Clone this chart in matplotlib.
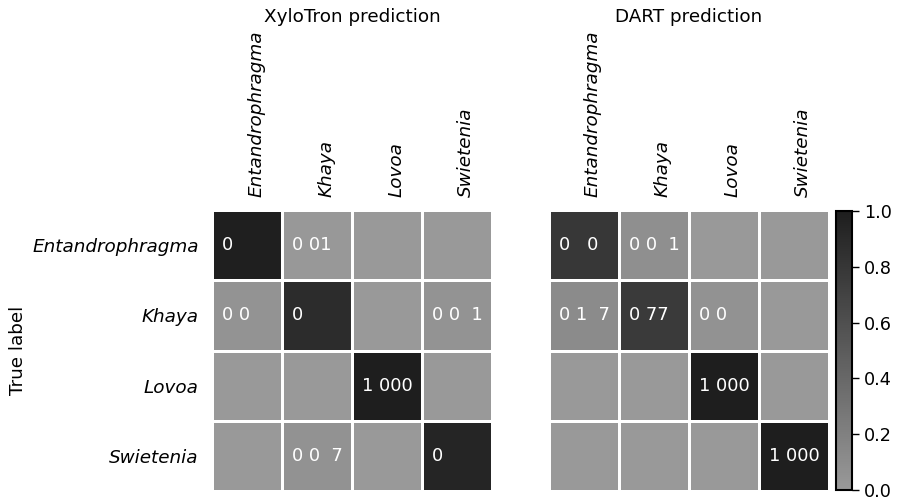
import matplotlib.pyplot as plt
import numpy as np
from matplotlib.colors import LinearSegmentedColormap

genera = ["Entandrophragma", "Khaya", "Lovoa", "Swietenia"]
panel_titles = ["XyloTron prediction", "DART prediction"]

# confusion matrices (rows = true label, columns = prediction)
xylotron = [[0.99, 0.01, 0.00, 0.00],
            [0.05, 0.88, 0.00, 0.05],
            [0.00, 0.00, 1.00, 0.00],
            [0.00, 0.06, 0.00, 0.94]]
dart = [[0.80, 0.08, 0.00, 0.00],
        [0.12, 0.77, 0.06, 0.00],
        [0.00, 0.00, 1.00, 0.00],
        [0.00, 0.00, 0.00, 1.00]]

# cell annotations as they appear in the chart (some glyphs not shown)
F = "\u2007"
xylotron_text = [["0 " + F * 3, "0 01" + F, "", ""],
                 ["0 0" + F * 2, "0 " + F * 3, "", "0 0" + F + "1"],
                 ["", "", "1 000", ""],
                 ["", "0 0" + F + "7", "", "0 " + F * 3]]
dart_text = [["0 " + F + "0" + F, "0 0" + F + "1", "", ""],
             ["0 1" + F + "7", "0 77" + F, "0 0" + F * 2, ""],
             ["", "", "1 000", ""],
             ["", "", "", "1 000"]]

cbar_ticks = [0.0, 0.2, 0.4, 0.6, 0.8, 1.0]

FS = 13.2
W, H = 900, 498
cmap = LinearSegmentedColormap.from_list("grey_cm", ["#999999", "#1e1e1e"])

fig = plt.figure(figsize=(W / 100, H / 100), dpi=100)


def px_axes(x0, y0, x1, y1):
    return fig.add_axes([x0 / W, 1 - y1 / H, (x1 - x0) / W, (y1 - y0) / H])


def draw_panel(ax, values, texts, show_rows):
    mesh = ax.pcolormesh(np.array(values), cmap=cmap, vmin=0, vmax=1,
                         edgecolors="white", linewidth=1.8)
    ax.set_xlim(0, len(genera))
    ax.set_ylim(len(genera), 0)
    pos = np.arange(len(genera)) + 0.5
    ax.xaxis.tick_top()
    ax.set_xticks(pos)
    ax.set_xticklabels(genera, rotation=90, ha="left", style="italic", fontsize=FS)
    ax.set_yticks(pos)
    if show_rows:
        ax.set_yticklabels(genera, style="italic", fontsize=FS)
    else:
        ax.set_yticklabels([])
    ax.tick_params(length=0, pad=9.5)
    for s in ax.spines.values():
        s.set_visible(False)
    for i, row in enumerate(texts):
        for j, t in enumerate(row):
            if t:
                ax.text(j + 0.5, i + 0.5, t, ha="center", va="center",
                        color="white", fontsize=FS * 0.97)
    return mesh


ax1 = px_axes(212, 210, 492, 491)
ax2 = px_axes(549, 210, 829, 491)
mesh = draw_panel(ax1, xylotron, xylotron_text, True)
draw_panel(ax2, dart, dart_text, False)

fig.text(352 / W, 1 - 17 / H, panel_titles[0], ha="center", va="center", fontsize=FS)
fig.text(689 / W, 1 - 17 / H, panel_titles[1], ha="center", va="center", fontsize=FS)
fig.text(18 / W, 1 - 350 / H, "True label", rotation=90, ha="center", va="center", fontsize=FS)

cax = px_axes(836, 211, 852, 490)
cb = fig.colorbar(mesh, cax=cax)
cb.set_ticks(cbar_ticks)
cb.ax.tick_params(labelsize=FS * 0.96, length=5, width=1)
cb.outline.set_linewidth(1.5)

fig.savefig("out.png", dpi=100)
